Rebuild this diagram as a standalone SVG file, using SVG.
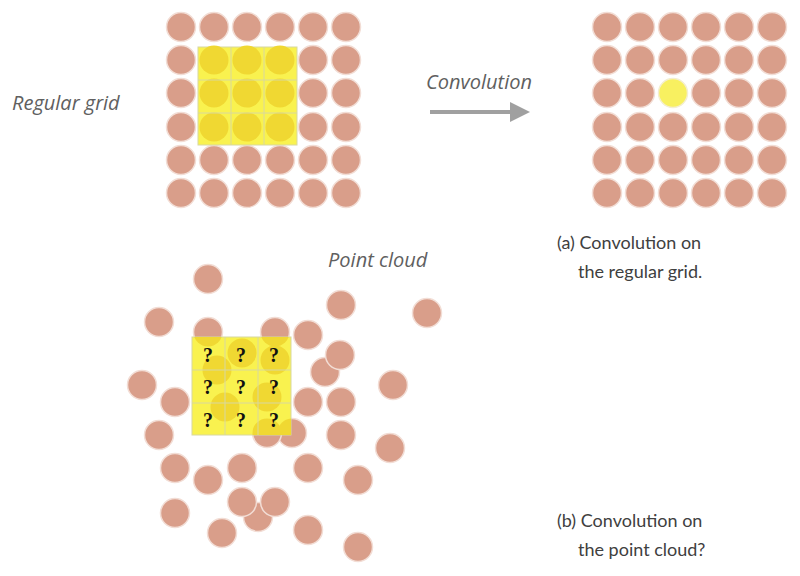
<svg xmlns="http://www.w3.org/2000/svg" width="800" height="576" viewBox="0 0 800 576">
<defs>
<style>
.p{fill:#d99e8a;stroke:#f2ddd5;stroke-width:1.5}
.y{fill:#f0d832}
.t{font-family:"Open Sans","Liberation Sans",sans-serif;font-style:italic;fill:#606060;font-size:20px}
.c{font-family:"Lato","Liberation Sans",sans-serif;fill:#404040;font-size:18px}
.q{font-family:"Liberation Serif",serif;font-weight:bold;fill:#111;font-size:20px;text-anchor:middle}
.box{fill:#f9f24f;stroke:#d8d8a0;stroke-width:1}
</style>
<clipPath id="cb"><rect x="192" y="337" width="99" height="98"/></clipPath>
<clipPath id="ca"><rect x="198" y="47" width="99" height="98"/></clipPath>
</defs>
<g id="grid-a">
<g class="p">
<circle cx="181" cy="27" r="14.5"/><circle cx="214" cy="27" r="14.5"/><circle cx="247" cy="27" r="14.5"/><circle cx="280" cy="27" r="14.5"/><circle cx="313" cy="27" r="14.5"/><circle cx="346" cy="27" r="14.5"/>
<circle cx="181" cy="60" r="14.5"/><circle cx="313" cy="60" r="14.5"/><circle cx="346" cy="60" r="14.5"/>
<circle cx="181" cy="93" r="14.5"/><circle cx="313" cy="93" r="14.5"/><circle cx="346" cy="93" r="14.5"/>
<circle cx="181" cy="127" r="14.5"/><circle cx="313" cy="127" r="14.5"/><circle cx="346" cy="127" r="14.5"/>
<circle cx="181" cy="160" r="14.5"/><circle cx="214" cy="160" r="14.5"/><circle cx="247" cy="160" r="14.5"/><circle cx="280" cy="160" r="14.5"/><circle cx="313" cy="160" r="14.5"/><circle cx="346" cy="160" r="14.5"/>
<circle cx="181" cy="193" r="14.5"/><circle cx="214" cy="193" r="14.5"/><circle cx="247" cy="193" r="14.5"/><circle cx="280" cy="193" r="14.5"/><circle cx="313" cy="193" r="14.5"/><circle cx="346" cy="193" r="14.5"/>
</g>
<rect class="box" x="198" y="47" width="99" height="98"/>
<g class="y">
<circle cx="214" cy="60" r="14.5"/><circle cx="247" cy="60" r="14.5"/><circle cx="280" cy="60" r="14.5"/>
<circle cx="214" cy="93" r="14.5"/><circle cx="247" cy="93" r="14.5"/><circle cx="280" cy="93" r="14.5"/>
<circle cx="214" cy="127" r="14.5"/><circle cx="247" cy="127" r="14.5"/><circle cx="280" cy="127" r="14.5"/>
</g>
<path d="M231 47V145M264 47V145M198 80H297M198 113H297" stroke="#d8d8a0" fill="none"/>
</g>
<g id="grid-b">
<g class="p">
<circle cx="607" cy="27" r="14.5"/><circle cx="640" cy="27" r="14.5"/><circle cx="673" cy="27" r="14.5"/><circle cx="706" cy="27" r="14.5"/><circle cx="739" cy="27" r="14.5"/><circle cx="772" cy="27" r="14.5"/>
<circle cx="607" cy="60" r="14.5"/><circle cx="640" cy="60" r="14.5"/><circle cx="673" cy="60" r="14.5"/><circle cx="706" cy="60" r="14.5"/><circle cx="739" cy="60" r="14.5"/><circle cx="772" cy="60" r="14.5"/>
<circle cx="607" cy="93" r="14.5"/><circle cx="640" cy="93" r="14.5"/><circle cx="706" cy="93" r="14.5"/><circle cx="739" cy="93" r="14.5"/><circle cx="772" cy="93" r="14.5"/>
<circle cx="607" cy="127" r="14.5"/><circle cx="640" cy="127" r="14.5"/><circle cx="673" cy="127" r="14.5"/><circle cx="706" cy="127" r="14.5"/><circle cx="739" cy="127" r="14.5"/><circle cx="772" cy="127" r="14.5"/>
<circle cx="607" cy="160" r="14.5"/><circle cx="640" cy="160" r="14.5"/><circle cx="673" cy="160" r="14.5"/><circle cx="706" cy="160" r="14.5"/><circle cx="739" cy="160" r="14.5"/><circle cx="772" cy="160" r="14.5"/>
<circle cx="607" cy="193" r="14.5"/><circle cx="640" cy="193" r="14.5"/><circle cx="673" cy="193" r="14.5"/><circle cx="706" cy="193" r="14.5"/><circle cx="739" cy="193" r="14.5"/><circle cx="772" cy="193" r="14.5"/>
</g>
<circle cx="673" cy="93" r="14.5" fill="#f8f060" stroke="#f4eed0" stroke-width="1.5"/>
</g>
<g id="cloud">
<g class="p">
<circle cx="208" cy="279" r="14.5"/><circle cx="159" cy="322" r="14.5"/><circle cx="208" cy="332" r="14.5"/><circle cx="275" cy="332" r="14.5"/><circle cx="308" cy="335" r="14.5"/><circle cx="341" cy="305" r="14.5"/><circle cx="427" cy="313" r="14.5"/><circle cx="325" cy="372" r="14.5"/><circle cx="340" cy="355" r="14.5"/>
<circle cx="142" cy="385" r="14.5"/><circle cx="175" cy="402" r="14.5"/><circle cx="308" cy="402" r="14.5"/><circle cx="341" cy="402" r="14.5"/><circle cx="393" cy="385" r="14.5"/>
<circle cx="159" cy="435" r="14.5"/><circle cx="292" cy="433" r="14.5"/><circle cx="267" cy="433" r="14.5"/><circle cx="341" cy="435" r="14.5"/><circle cx="390" cy="448" r="14.5"/>
<circle cx="175" cy="468" r="14.5"/><circle cx="208" cy="480" r="14.5"/><circle cx="242" cy="468" r="14.5"/><circle cx="308" cy="468" r="14.5"/><circle cx="358" cy="480" r="14.5"/>
<circle cx="175" cy="513" r="14.5"/><circle cx="258" cy="517" r="14.5"/><circle cx="242" cy="502" r="14.5"/><circle cx="275" cy="502" r="14.5"/><circle cx="222" cy="533" r="14.5"/><circle cx="308" cy="530" r="14.5"/><circle cx="358" cy="547" r="14.5"/>
</g>
<rect class="box" x="192" y="337" width="99" height="98"/>
<g class="y" clip-path="url(#cb)">
<circle cx="208" cy="332" r="14.5"/><circle cx="275" cy="332" r="14.5"/><circle cx="242" cy="353" r="14.5"/><circle cx="217" cy="370" r="14.5"/><circle cx="275" cy="360" r="14.5"/><circle cx="225" cy="407" r="14.5"/><circle cx="267" cy="397" r="14.5"/><circle cx="267" cy="433" r="14.5"/><circle cx="292" cy="433" r="14.5"/>
</g>
<path d="M225 337V435M258 337V435M192 370H291M192 403H291" stroke="#d8d8a0" fill="none"/>
<text class="q" x="208" y="362" font-size="17">?</text><text class="q" x="241" y="362" font-size="26">?</text><text class="q" x="274" y="362">?</text>
<text class="q" x="208" y="394">?</text><text class="q" x="241" y="394">?</text><text class="q" x="274" y="394">?</text>
<text class="q" x="208" y="427">?</text><text class="q" x="241" y="427">?</text><text class="q" x="274" y="427">?</text>
</g>
<g id="connectors">
<path d="M430 112H512" stroke="#a0a0a0" stroke-width="4"/>
<path d="M510 102L530 112L510 122Z" fill="#a0a0a0"/>
</g>
<g id="labels">
<text class="t" x="12" y="110">Regular grid</text>
<text class="t" x="426" y="89">Convolution</text>
<text class="t" x="328" y="267">Point cloud</text>
<text class="c" x="557" y="249">(a) Convolution on</text>
<text class="c" x="578" y="278">the regular grid.</text>
<text class="c" x="557" y="527">(b) Convolution on</text>
<text class="c" x="578" y="556">the point cloud?</text>
</g>
</svg>
